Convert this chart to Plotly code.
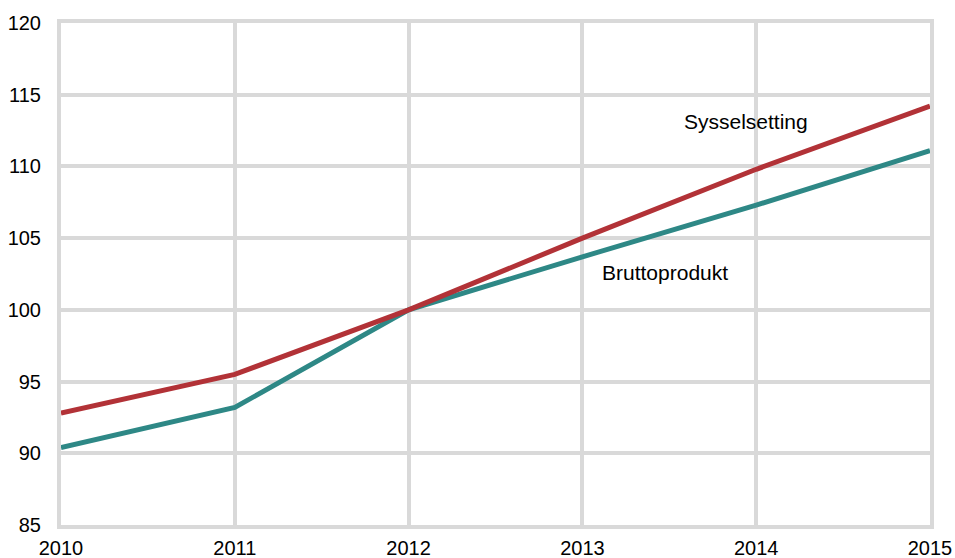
import plotly.graph_objects as go

years = [2010, 2011, 2012, 2013, 2014, 2015]
sysselsetting = [92.8, 95.5, 100.0, 105.0, 109.8, 114.2]
bruttoprodukt = [90.4, 93.2, 100.0, 103.7, 107.3, 111.1]

grid = "#d9d9d9"

fig = go.Figure()
fig.add_trace(go.Scatter(x=years, y=bruttoprodukt, mode="lines", name="Bruttoprodukt",
                         line=dict(color="#2e8886", width=5)))
fig.add_trace(go.Scatter(x=years, y=sysselsetting, mode="lines", name="Sysselsetting",
                         line=dict(color="#b23237", width=5)))

fig.add_annotation(x=2013.94, y=113.1, text="Sysselsetting", showarrow=False,
                   font=dict(size=21, color="#000000"))
fig.add_annotation(x=2013.475, y=102.6, text="Bruttoprodukt", showarrow=False,
                   font=dict(size=21, color="#000000"))

fig.update_layout(
    width=955, height=558,
    margin=dict(l=61, r=25, t=23, b=33),
    paper_bgcolor="white", plot_bgcolor="white",
    font=dict(family="Liberation Sans, Arial, sans-serif", size=20, color="#000000"),
    showlegend=False,
    xaxis=dict(range=[2010, 2015], tickvals=years, showgrid=True, gridcolor=grid, gridwidth=4,
               showline=True, linecolor=grid, linewidth=4, mirror=True, zeroline=False,
               ticks="", ticklabelstandoff=2, automargin=False),
    yaxis=dict(range=[85, 120], dtick=5, showgrid=True, gridcolor=grid, gridwidth=4,
               showline=True, linecolor=grid, linewidth=4, mirror=True, zeroline=False,
               ticks="", ticklabelstandoff=12, automargin=False),
)

# drop the default page margin so the figure sits at the window's corner
fig.write_html("out.html", config={"displayModeBar": False},
               post_script="document.body.style.margin='0';")
